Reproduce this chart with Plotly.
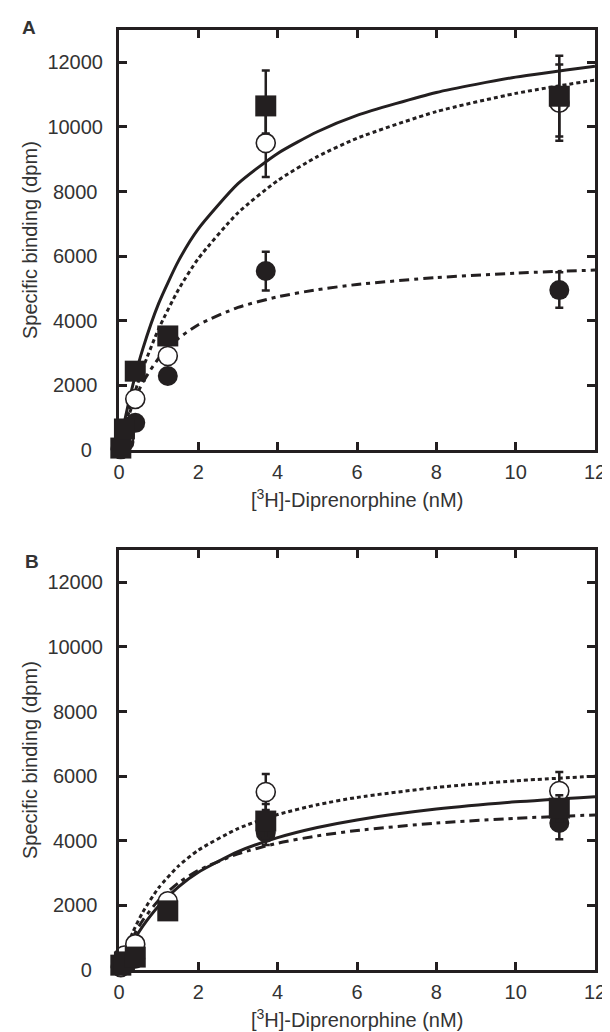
import plotly.graph_objects as go

# ---------------- data ----------------
conc = [0.046, 0.137, 0.41, 1.23, 3.7, 11.1]

# Panel A
sq_A = [60, 650, 2440, 3530, 10650, 10950]
sq_A_err_plus = [0, 0, 0, 0, 1100, 1250]
sq_A_err_minus = [0, 0, 0, 0, 850, 1250]
oc_A = [40, 450, 1580, 2910, 9500, 10750]
oc_A_err = [0, 0, 0, 0, 1050, 1180]
fc_A = [20, 250, 840, 2290, 5540, 4950]
fc_A_err = [0, 0, 0, 0, 600, 550]

# Panel B
sq_B = [150, 250, 400, 1830, 4610, 5010]
sq_B_err = [0, 0, 0, 0, 530, 400]
oc_B = [100, 450, 800, 2130, 5510, 5540]
oc_B_err = [0, 0, 0, 0, 560, 590]
fc_B = [80, 200, 350, 1950, 4250, 4550]
fc_B_err = [0, 0, 0, 0, 380, 500]

# fitted curves
curve_x = [0, 0.15, 0.35, 0.6, 1, 1.5, 2, 3, 4, 5, 6, 8, 10, 12]
solid_A = [0, 941, 2015, 3130, 4537, 5853, 6845, 8243, 9180, 9851, 10357, 11067, 11541, 11880]
dotted_A = [0, 728, 1589, 2521, 3753, 4967, 5926, 7343, 8340, 9080, 9651, 10474, 11038, 11450]
dashdot_A = [0, 705, 1426, 2095, 2841, 3457, 3877, 4414, 4742, 4963, 5123, 5337, 5475, 5570]
solid_B = [0, 405, 872, 1361, 1984, 2574, 3024, 3663, 4097, 4410, 4646, 4980, 5205, 5366]
dotted_B = [0, 558, 1174, 1793, 2545, 3219, 3710, 4378, 4812, 5116, 5341, 5651, 5855, 6000]
dashdot_B = [0, 490, 1019, 1540, 2157, 2697, 3082, 3597, 3925, 4152, 4319, 4547, 4695, 4800]

x_ticks = [0, 2, 4, 6, 8, 10, 12]
x_ticklabels = ["0", "2", "4", "6", "8", "10", "12"]
y_ticks = [0, 2000, 4000, 6000, 8000, 10000, 12000]
y_ticklabels = ["0", "2000", "4000", "6000", "8000", "10000", "12000"]
x_title = "[<sup>3</sup>H]-Diprenorphine (nM)"
y_title = "Specific binding (dpm)"
panel_labels = ["A", "B"]

# ---------------- styling ----------------
INK = "#231f20"
TXT = "#333333"
FONT = "Liberation Sans, Arial, Helvetica, sans-serif"
DOT = "4px,3px"
DASHDOT = "10px,5px,4px,5px"

# the original's short labels sit a little left of right-alignment
NBSP = "\u00a0"
y_ticktext = [t + NBSP * {1: 2, 4: 1}.get(len(t), 0) for t in y_ticklabels]

fig = go.Figure()


def add_panel(xa, ya, solid, dotted, dashdot, sq, sq_ep, sq_em, oc, oc_e, fc, fc_e):
    for yv, dash in [(solid, "solid"), (dotted, DOT), (dashdot, DASHDOT)]:
        fig.add_trace(go.Scatter(
            x=curve_x, y=yv, mode="lines", xaxis=xa, yaxis=ya,
            line=dict(color=INK, width=3, dash=dash, shape="spline", smoothing=0.6),
            showlegend=False, hoverinfo="skip"))
    err_style = dict(type="data", visible=True, color=INK, thickness=2.5, width=4)
    fig.add_trace(go.Scatter(
        x=conc, y=fc, mode="markers", xaxis=xa, yaxis=ya, cliponaxis=False,
        marker=dict(symbol="circle", size=20, color=INK, line=dict(width=0)),
        error_y=dict(array=fc_e, **err_style), showlegend=False))
    fig.add_trace(go.Scatter(
        x=conc, y=oc, mode="markers", xaxis=xa, yaxis=ya, cliponaxis=False,
        marker=dict(symbol="circle", size=19, color="white", line=dict(width=1.6, color=INK)),
        error_y=dict(array=oc_e, **err_style), showlegend=False))
    fig.add_trace(go.Scatter(
        x=conc, y=sq, mode="markers", xaxis=xa, yaxis=ya, cliponaxis=False,
        marker=dict(symbol="square", size=21, color=INK, line=dict(width=0)),
        error_y=dict(array=sq_ep, arrayminus=sq_em, symmetric=False, **err_style),
        showlegend=False))


add_panel("x", "y", solid_A, dotted_A, dashdot_A, sq_A, sq_A_err_plus, sq_A_err_minus,
          oc_A, oc_A_err, fc_A, fc_A_err)
add_panel("x2", "y2", solid_B, dotted_B, dashdot_B, sq_B, sq_B_err, sq_B_err,
          oc_B, oc_B_err, fc_B, fc_B_err)

axis_common = dict(
    showline=True, linewidth=3, linecolor=INK, mirror="ticks",
    ticks="inside", ticklen=8, tickwidth=3, tickcolor=INK,
    showgrid=False, zeroline=False,
    tickfont=dict(family=FONT, size=20, color=TXT),
)
xaxis_common = dict(range=[0, 12], tickvals=x_ticks, ticktext=x_ticklabels,
                    domain=[0, 1], ticklabelstandoff=2, **axis_common)
yaxis_common = dict(range=[0, 13000], tickvals=y_ticks, ticktext=y_ticktext,
                    ticklabelstandoff=9, **axis_common)

H_PAPER = 940.0
dom_A = [520 / H_PAPER, 1.0]
dom_B = [0.0, 420 / H_PAPER]

fig.update_layout(
    width=610, height=1032,
    margin=dict(l=111, r=12, t=22, b=70),
    paper_bgcolor="white", plot_bgcolor="white",
    xaxis=dict(anchor="y", **xaxis_common),
    yaxis=dict(anchor="x", domain=dom_A, **yaxis_common),
    xaxis2=dict(anchor="y2", **xaxis_common),
    yaxis2=dict(anchor="x2", domain=dom_B, **yaxis_common),
)


def py2paper(py):
    return (962 - py) / H_PAPER


def px2paper(px):
    return (px - 111) / 487.0


ann = []
for cy_title, cy_ylab, lab, lab_xy in [(490, 232, panel_labels[0], (19, 20)),
                                        (1010, 752, panel_labels[1], (22, 553))]:
    ann.append(dict(text=x_title, x=0.5, y=py2paper(cy_title), xref="paper", yref="paper",
                    showarrow=False, xanchor="center", yanchor="middle",
                    font=dict(family=FONT, size=20, color=TXT)))
    ann.append(dict(text=y_title, x=px2paper(20), y=py2paper(cy_ylab), xref="paper", yref="paper",
                    showarrow=False, xanchor="center", yanchor="middle", textangle=-90,
                    font=dict(family=FONT, size=20, color=TXT)))
    ann.append(dict(text="<b>%s</b>" % lab, x=px2paper(lab_xy[0]), y=py2paper(lab_xy[1]),
                    xref="paper", yref="paper", showarrow=False,
                    xanchor="center", yanchor="middle",
                    font=dict(family=FONT, size=19, color=TXT)))
fig.update_layout(annotations=ann)

fig.write_html("out.html")
